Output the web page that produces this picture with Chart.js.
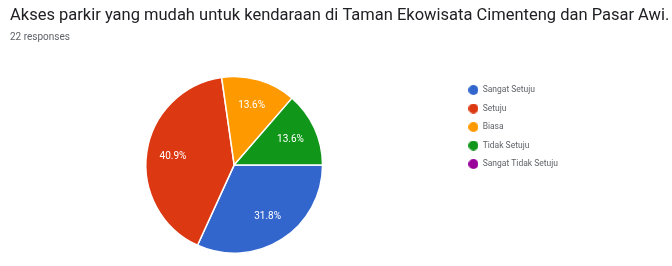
<!DOCTYPE html>
<html>
<head>
<meta charset="utf-8">
<script src="https://cdn.jsdelivr.net/npm/chart.js@4/dist/chart.umd.min.js"></script>
<style>
  html, body { margin: 0; padding: 0; background: #ffffff; }
  #wrap { width: 672px; height: 266px; position: relative; }
</style>
</head>
<body>
<div id="wrap"><canvas id="chart"></canvas></div>
<script>
// Chart data
const questionTitle = 'Akses parkir yang mudah untuk kendaraan di Taman Ekowisata Cimenteng dan Pasar Awi.';
const responseNote = '22 responses';
const answerLabels = ['Sangat Setuju', 'Setuju', 'Biasa', 'Tidak Setuju', 'Sangat Tidak Setuju'];
const answerCounts = [7, 9, 3, 3, 0];
const answerColors = ['#3366cc', '#dc3912', '#ff9900', '#109618', '#990099'];

// 10px legend dots (built-in circle gets capped by the font size)
function makeDot(color) {
    const c = document.createElement('canvas');
    c.width = 10;
    c.height = 10;
    const g = c.getContext('2d');
    g.fillStyle = color;
    g.beginPath();
    g.arc(5, 5, 5, 0, Math.PI * 2);
    g.fill();
    return c;
}
const legendDots = answerColors.map(makeDot);

// percentage labels inside slices (Google Forms style)
const sliceLabels = {
    id: 'sliceLabels',
    afterDatasetsDraw(chart) {
        const ctx = chart.ctx;
        const data = chart.data.datasets[0].data;
        const total = data.reduce((a, b) => a + b, 0);
        const meta = chart.getDatasetMeta(0);
        ctx.save();
        ctx.fillStyle = '#ffffff';
        ctx.font = '10px Roboto, Arial, sans-serif';
        ctx.textAlign = 'center';
        ctx.textBaseline = 'middle';
        meta.data.forEach((arc, i) => {
            if (!data[i]) return;
            const p = arc.getProps(['x', 'y', 'startAngle', 'endAngle', 'outerRadius'], true);
            const mid = (p.startAngle + p.endAngle) / 2;
            const r = p.outerRadius * 0.7;
            const pct = (data[i] / total * 100).toFixed(1) + '%';
            ctx.fillText(pct, p.x + Math.cos(mid) * r, p.y + Math.sin(mid) * r);
        });
        ctx.restore();
    }
};

// empty box on the right so the legend sits mid-page without squeezing the title
const rightSpacer = {
    id: 'rightSpacer',
    start(chart) {
        Chart.layouts.addBox(chart, {
            position: 'right',
            weight: 2000,
            fullSize: false,
            options: {},
            isHorizontal() { return false; },
            update(maxWidth, maxHeight) {
                this.width = 104;
                this.height = maxHeight;
            },
            draw() {}
        });
    }
};

new Chart(document.getElementById('chart'), {
    type: 'pie',
    data: {
        labels: answerLabels,
        datasets: [{
            data: answerCounts,
            backgroundColor: answerColors,
            borderColor: '#ffffff',
            borderWidth: 1.5
        }]
    },
    options: {
        responsive: true,
        maintainAspectRatio: false,
        animation: false,
        rotation: 90,
        layout: { padding: { left: 10, right: 0, top: 6, bottom: 12 } },
        plugins: {
            title: {
                display: true,
                text: questionTitle,
                align: 'start',
                color: '#202124',
                font: { family: 'Roboto, Arial, sans-serif', size: 16.5, weight: 'normal' },
                padding: { top: 0, bottom: 6 }
            },
            subtitle: {
                display: true,
                text: responseNote,
                align: 'start',
                color: '#5f6368',
                font: { family: 'Roboto, Arial, sans-serif', size: 10 },
                padding: { top: 0, bottom: 32 }
            },
            legend: {
                position: 'right',
                align: 'start',
                fullSize: false,
                labels: {
                    usePointStyle: true,
                    pointStyleWidth: 10,
                    boxWidth: 10,
                    boxHeight: 10,
                    padding: 10,
                    color: '#5f6368',
                    font: { family: 'Roboto, Arial, sans-serif', size: 8.5 },
                    generateLabels(chart) {
                        const items = Chart.overrides.pie.plugins.legend.labels.generateLabels(chart);
                        items.forEach((item, i) => { item.pointStyle = legendDots[i]; });
                        return items;
                    }
                }
            },
            tooltip: { enabled: false }
        }
    },
    plugins: [sliceLabels, rightSpacer]
});
</script>
</body>
</html>
